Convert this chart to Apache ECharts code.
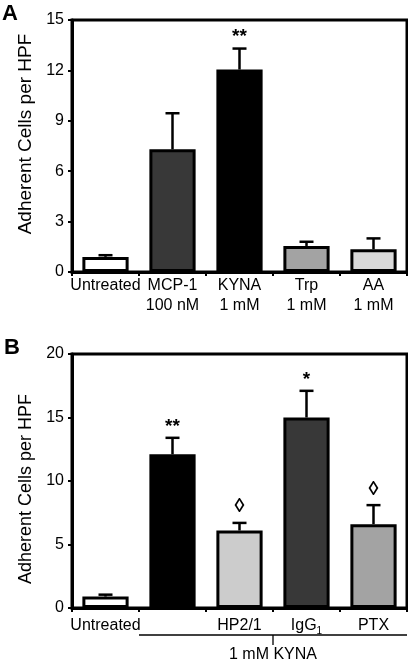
<!DOCTYPE html>
<html><head><meta charset="utf-8">
<script src="https://cdn.jsdelivr.net/npm/echarts@6/dist/echarts.min.js"></script>
<style>html,body{margin:0;padding:0;background:#fff}#c{width:408px;height:660px}</style>
</head><body><div id="c"></div>
<script>
// Panel A
const catsA = ['Untreated', 'MCP-1\n100 nM', 'KYNA\n1 mM', 'Trp\n1 mM', 'AA\n1 mM'];
const valsA = [0.9, 7.3, 12.05, 1.55, 1.35];
const errTopA = [1.0, 9.45, 13.3, 1.8, 2.0];
const colorsA = ['#ffffff', '#383838', '#000000', '#a3a3a3', '#d9d9d9'];
const sigA = ['', '', '**', '', ''];
const yTicksA = { min: 0, max: 15, interval: 3 };

// Panel B
const catsB = ['Untreated', '', 'HP2/1', 'IgG{sub|1}', 'PTX'];
const valsB = [0.9, 12.1, 6.1, 15.0, 6.6];
const errTopB = [1.05, 13.4, 6.7, 17.1, 8.1];
const colorsB = ['#ffffff', '#000000', '#cccccc', '#383838', '#a3a3a3'];
const sigB = ['', '**', '\u25CA', '*', '\u25CA'];
const yTicksB = { min: 0, max: 20, interval: 5 };
const bracketB = { from: 1, to: 4, label: '1 mM KYNA' };

const yName = 'Adherent Cells per HPF';
const FONT = 'Liberation Sans, Arial, sans-serif';

const chart = echarts.init(document.getElementById('c'), null, { renderer: 'canvas' });

function xAxis(gi, cats, margin) {
  return {
    type: 'category', gridIndex: gi, data: cats,
    axisLine: { show: true, lineStyle: { color: '#000', width: 3 } },
    axisTick: { show: true, length: 4, lineStyle: { color: '#000', width: 2 } },
    axisLabel: {
      color: '#000', fontSize: 16, fontFamily: FONT, margin: margin, lineHeight: 20,
      interval: 0,
      rich: { sub: { fontSize: 10, fontFamily: FONT, color: '#000', verticalAlign: 'bottom', padding: [10, 0, 0, 0] } }
    }
  };
}
function yAxis(gi, t, nameSize, pad) {
  return {
    type: 'value', gridIndex: gi, min: t.min, max: t.max, interval: t.interval,
    name: yName, nameLocation: 'middle', nameGap: 35,
    nameTextStyle: { color: '#000', fontSize: nameSize, fontFamily: FONT, padding: pad },
    axisLine: { show: true, lineStyle: { color: '#000', width: 3 } },
    axisTick: { show: true, length: 4, lineStyle: { color: '#000', width: 2 } },
    splitLine: { show: false },
    axisLabel: { color: '#000', fontSize: 16, fontFamily: FONT, margin: 8 }
  };
}
function barSeries(gi, vals, colors) {
  return {
    type: 'bar', xAxisIndex: gi, yAxisIndex: gi, barWidth: '69%',
    data: vals.map((v, i) => ({ value: v, itemStyle: { color: colors[i] } })),
    itemStyle: { borderColor: '#000', borderWidth: 3 },
    emphasis: { disabled: true }, animation: false
  };
}
function errSeries(gi, vals, tops) {
  return {
    type: 'custom', xAxisIndex: gi, yAxisIndex: gi, z: 5,
    data: vals.map((v, i) => [i, v, tops[i]]),
    renderItem(params, api) {
      const p0 = api.coord([api.value(0), api.value(1)]);
      const p1 = api.coord([api.value(0), api.value(2)]);
      return {
        type: 'group', children: [
          { type: 'line', shape: { x1: p0[0], y1: p0[1], x2: p1[0], y2: p1[1] }, style: { stroke: '#000', lineWidth: 2.5 } },
          { type: 'line', shape: { x1: p1[0] - 7, y1: p1[1], x2: p1[0] + 7, y2: p1[1] }, style: { stroke: '#000', lineWidth: 2.5 } }
        ]
      };
    }, animation: false
  };
}
function sigSeries(gi, tops, sig) {
  return {
    type: 'custom', xAxisIndex: gi, yAxisIndex: gi, z: 6,
    data: tops.map((v, i) => [i, v, sig[i]]),
    renderItem(params, api) {
      const s = sig[params.dataIndex];
      if (!s) return null;
      const p = api.coord([api.value(0), api.value(1)]);
      const isDiamond = s === '\u25CA';
      return {
        type: 'text',
        style: {
          text: s, x: p[0], y: p[1] - (isDiamond ? 6 : 2),
          align: 'center', verticalAlign: 'bottom',
          font: (isDiamond ? 'bold 20px ' : 'bold 19px ') + FONT, fill: '#000'
        }
      };
    }, animation: false
  };
}
function bracketSeries(gi, br) {
  return {
    type: 'custom', xAxisIndex: gi, yAxisIndex: gi, z: 6, clip: false,
    data: [[br.from, br.to]],
    renderItem(params, api) {
      const a = api.coord([api.value(0), 0]);
      const b = api.coord([api.value(1), 0]);
      const bw = api.size([1, 0])[0];
      const x1 = a[0] - bw / 2, x2 = b[0] + bw / 2, y = a[1] + 27, xm = (x1 + x2) / 2;
      return {
        type: 'group', children: [
          { type: 'line', shape: { x1: x1, y1: y, x2: x2, y2: y }, style: { stroke: '#000', lineWidth: 1.3 } },
          { type: 'line', shape: { x1: xm, y1: y, x2: xm, y2: y + 10 }, style: { stroke: '#000', lineWidth: 1.3 } },
          { type: 'text', style: { text: br.label, x: xm, y: y + 20, align: 'center', verticalAlign: 'middle', font: '16px ' + FONT, fill: '#000' } }
        ]
      };
    }, animation: false
  };
}

chart.setOption({
  animation: false,
  backgroundColor: '#fff',
  grid: [
    { left: 72, top: 20, width: 335, height: 252, show: true, borderColor: '#000', borderWidth: 3, backgroundColor: 'transparent' },
    { left: 72, top: 354, width: 335, height: 254, show: true, borderColor: '#000', borderWidth: 3, backgroundColor: 'transparent' }
  ],
  xAxis: [xAxis(0, catsA, 4), xAxis(1, catsB, 8)],
  yAxis: [yAxis(0, yTicksA, 19, [0, 0, 0, 24]), yAxis(1, yTicksB, 18, [0, 16, 0, 0])],
  graphic: [
    { type: 'text', left: 2, top: 3, style: { text: 'A', font: 'bold 22px ' + FONT, fill: '#000' } },
    { type: 'text', left: 4, top: 337, style: { text: 'B', font: 'bold 22px ' + FONT, fill: '#000' } }
  ],
  series: [
    barSeries(0, valsA, colorsA), errSeries(0, valsA, errTopA), sigSeries(0, errTopA, sigA),
    barSeries(1, valsB, colorsB), errSeries(1, valsB, errTopB), sigSeries(1, errTopB, sigB),
    bracketSeries(1, bracketB)
  ]
});
</script></body></html>
